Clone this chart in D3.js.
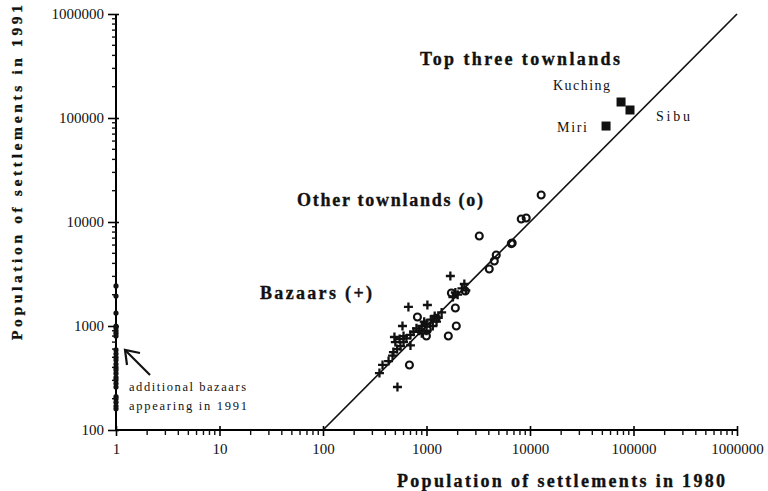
<!DOCTYPE html>
<html><head><meta charset="utf-8">
<script src="https://cdn.jsdelivr.net/npm/d3@7"></script>
<style>
body{margin:0;background:#fff;}
</style></head>
<body><svg id="c" width="768" height="491"></svg>
<script>
// Data (population 1980, population 1991)
const topTowns = [
  {name:"Kuching", x:75800, y:142500},
  {name:"Sibu", x:92500, y:119400},
  {name:"Miri", x:54300, y:83700}
];
const townlands1980 = [12820, 8230, 9190, 3236, 4720, 4520, 4040, 6730, 6600, 1900, 1940, 1625, 817, 1020, 998, 684, 1740, 2370, 1240];
const townlands1991 = [18170, 10690, 10920, 7330, 4820, 4220, 3530, 6280, 6200, 1490, 1000, 801, 1220, 916, 801, 422, 2075, 2170, 1186];
const bazaars1980 = [1700, 2320, 669, 1020, 586, 490, 524, 479, 351, 376, 430, 470, 520, 560, 600, 640, 700, 750, 800, 850, 900, 950, 1000, 1100, 1200, 1300, 1400, 1800, 1900, 2000, 2200, 2400, 600, 700, 550, 500, 900, 1000, 1150, 1250];
const bazaars1991 = [3026, 2535, 1524, 1592, 1000, 784, 259, 562, 353, 422, 460, 520, 600, 640, 700, 760, 820, 880, 950, 900, 1000, 1100, 1050, 1150, 1250, 1200, 1350, 1900, 2100, 2000, 2300, 2200, 800, 650, 750, 700, 850, 900, 1000, 1100];
const newBazaars1991 = [2426, 1943, 1334, 1000, 960, 900, 850, 800, 589, 540, 500, 470, 430, 400, 378, 350, 320, 303, 280, 259, 210, 200, 185, 170, 160];
const xTickValues = [1, 10, 100, 1000, 10000, 100000, 1000000];
const yTickValues = [100, 1000, 10000, 100000, 1000000];

const FONT = "Liberation Serif, Times New Roman, serif";
const svg = d3.select("#c");
const x = d3.scaleLog().domain([1, 1e6]).range([116, 737]);
const y = d3.scaleLog().domain([100, 1e6]).range([430, 14]);
const g = svg.append("g");

const xMinor = [];
for (let e = 0; e < 6; e++) for (let k = 2; k <= 9; k++) xMinor.push(k * Math.pow(10, e));
const yMinor = [];
for (let e = 2; e < 6; e++) for (let k = 2; k <= 9; k++) yMinor.push(k * Math.pow(10, e));

// x axis
const xAxis = d3.axisBottom(x).tickValues(xTickValues).tickFormat(d3.format("d")).tickSize(6).tickPadding(7);
const xa = g.append("g").attr("transform", "translate(0,430)").call(xAxis);
xa.attr("font-family", FONT);
xa.select(".domain").attr("stroke-width", 2).attr("d", "M116,0H737");
xa.selectAll(".tick line").attr("stroke-width", 1.6).attr("y1", -4);
xa.selectAll(".tick text").attr("font-size", 15).attr("font-family", FONT).attr("fill", "#111");
xa.selectAll("line.minor").data(xMinor).enter().append("line").attr("class", "minor")
  .attr("x1", d => x(d)).attr("x2", d => x(d)).attr("y1", 0).attr("y2", 5).attr("stroke", "#111").attr("stroke-width", 1.4);

// y axis
const yAxis = d3.axisLeft(y).tickValues(yTickValues).tickFormat(d3.format("d")).tickSize(8).tickPadding(4);
const ya = g.append("g").attr("transform", "translate(116,0)").call(yAxis);
ya.attr("font-family", FONT);
ya.select(".domain").attr("stroke-width", 2).attr("d", "M0,14V431");
ya.selectAll(".tick line").attr("stroke-width", 1.6).attr("x1", 3);
ya.selectAll(".tick text").attr("font-size", 15).attr("font-family", FONT).attr("fill", "#111");
ya.selectAll("line.minor").data(yMinor).enter().append("line").attr("class", "minor")
  .attr("y1", d => y(d)).attr("y2", d => y(d)).attr("x1", 0).attr("x2", -4).attr("stroke", "#111").attr("stroke-width", 1.4);

// 1:1 line
g.append("line").attr("x1", x(100)).attr("y1", y(100)).attr("x2", x(1e6)).attr("y2", y(1e6))
  .attr("stroke", "#111").attr("stroke-width", 1.7);

// new bazaars at x=1
g.selectAll("circle.nb").data(newBazaars1991).enter().append("circle").attr("class", "nb")
  .attr("cx", x(1)).attr("cy", d => y(d)).attr("r", 2.6).attr("fill", "#111");

// bazaars (+)
const bz = bazaars1980.map((v, i) => [v, bazaars1991[i]]);
g.selectAll("path.bz").data(bz).enter().append("path").attr("class", "bz")
  .attr("d", d => `M${x(d[0]) - 4.5},${y(d[1])}h9M${x(d[0])},${y(d[1]) - 4.5}v9`)
  .attr("stroke", "#111").attr("stroke-width", 2.3).attr("fill", "none");

// townlands (o)
const tl = townlands1980.map((v, i) => [v, townlands1991[i]]);
g.selectAll("circle.tl").data(tl).enter().append("circle").attr("class", "tl")
  .attr("cx", d => x(d[0])).attr("cy", d => y(d[1])).attr("r", 3.5)
  .attr("fill", "none").attr("stroke", "#111").attr("stroke-width", 2.1);

// top three
g.selectAll("rect.tt").data(topTowns).enter().append("rect").attr("class", "tt")
  .attr("x", d => x(d.x) - 4.5).attr("y", d => y(d.y) - 4.5).attr("width", 9).attr("height", 9).attr("fill", "#111");

// labels
function txt(s, xx, yy, size, bold, len) {
  const t = svg.append("text").attr("x", xx).attr("y", yy).attr("font-size", size)
    .attr("font-family", FONT)
    .attr("font-weight", bold ? "bold" : "normal").attr("fill", "#111").text(s);
  if (bold) t.attr("stroke", "#111").attr("stroke-width", 0.35);
  if (len) t.attr("textLength", len).attr("lengthAdjust", "spacing");
  return t;
}
txt("Top three townlands", 420, 65, 18, true, 200);
txt("Other townlands (o)", 297, 206, 18, true, 186);
txt("Bazaars (+)", 260, 299, 18, true, 112);
txt("Kuching", 553, 90, 14, false, 57);
txt("Miri", 557, 132, 14, false, 30);
txt("Sibu", 656, 121, 14, false, 34);
txt("additional bazaars", 129, 391, 12.5, false, 117);
txt("appearing in 1991", 129, 410, 12.5, false, 118);

// arrow
svg.append("path").attr("d", "M150,375L126,351").attr("stroke", "#111").attr("stroke-width", 2.2).attr("fill", "none");
svg.append("path").attr("d", "M127,365L125,350L140,353").attr("stroke", "#111").attr("stroke-width", 2.2).attr("fill", "none");

// axis titles
txt("Population of settlements in 1980", 397, 487, 18, true, 328);
svg.append("text").attr("transform", "translate(22,340) rotate(-90)")
  .attr("font-family", FONT)
  .attr("font-size", 15.5).attr("font-weight", "bold").attr("fill", "#111")
  .attr("stroke", "#111").attr("stroke-width", 0.3)
  .attr("textLength", 335).attr("lengthAdjust", "spacing")
  .text("Population of settlements in 1991");
</script></body></html>
